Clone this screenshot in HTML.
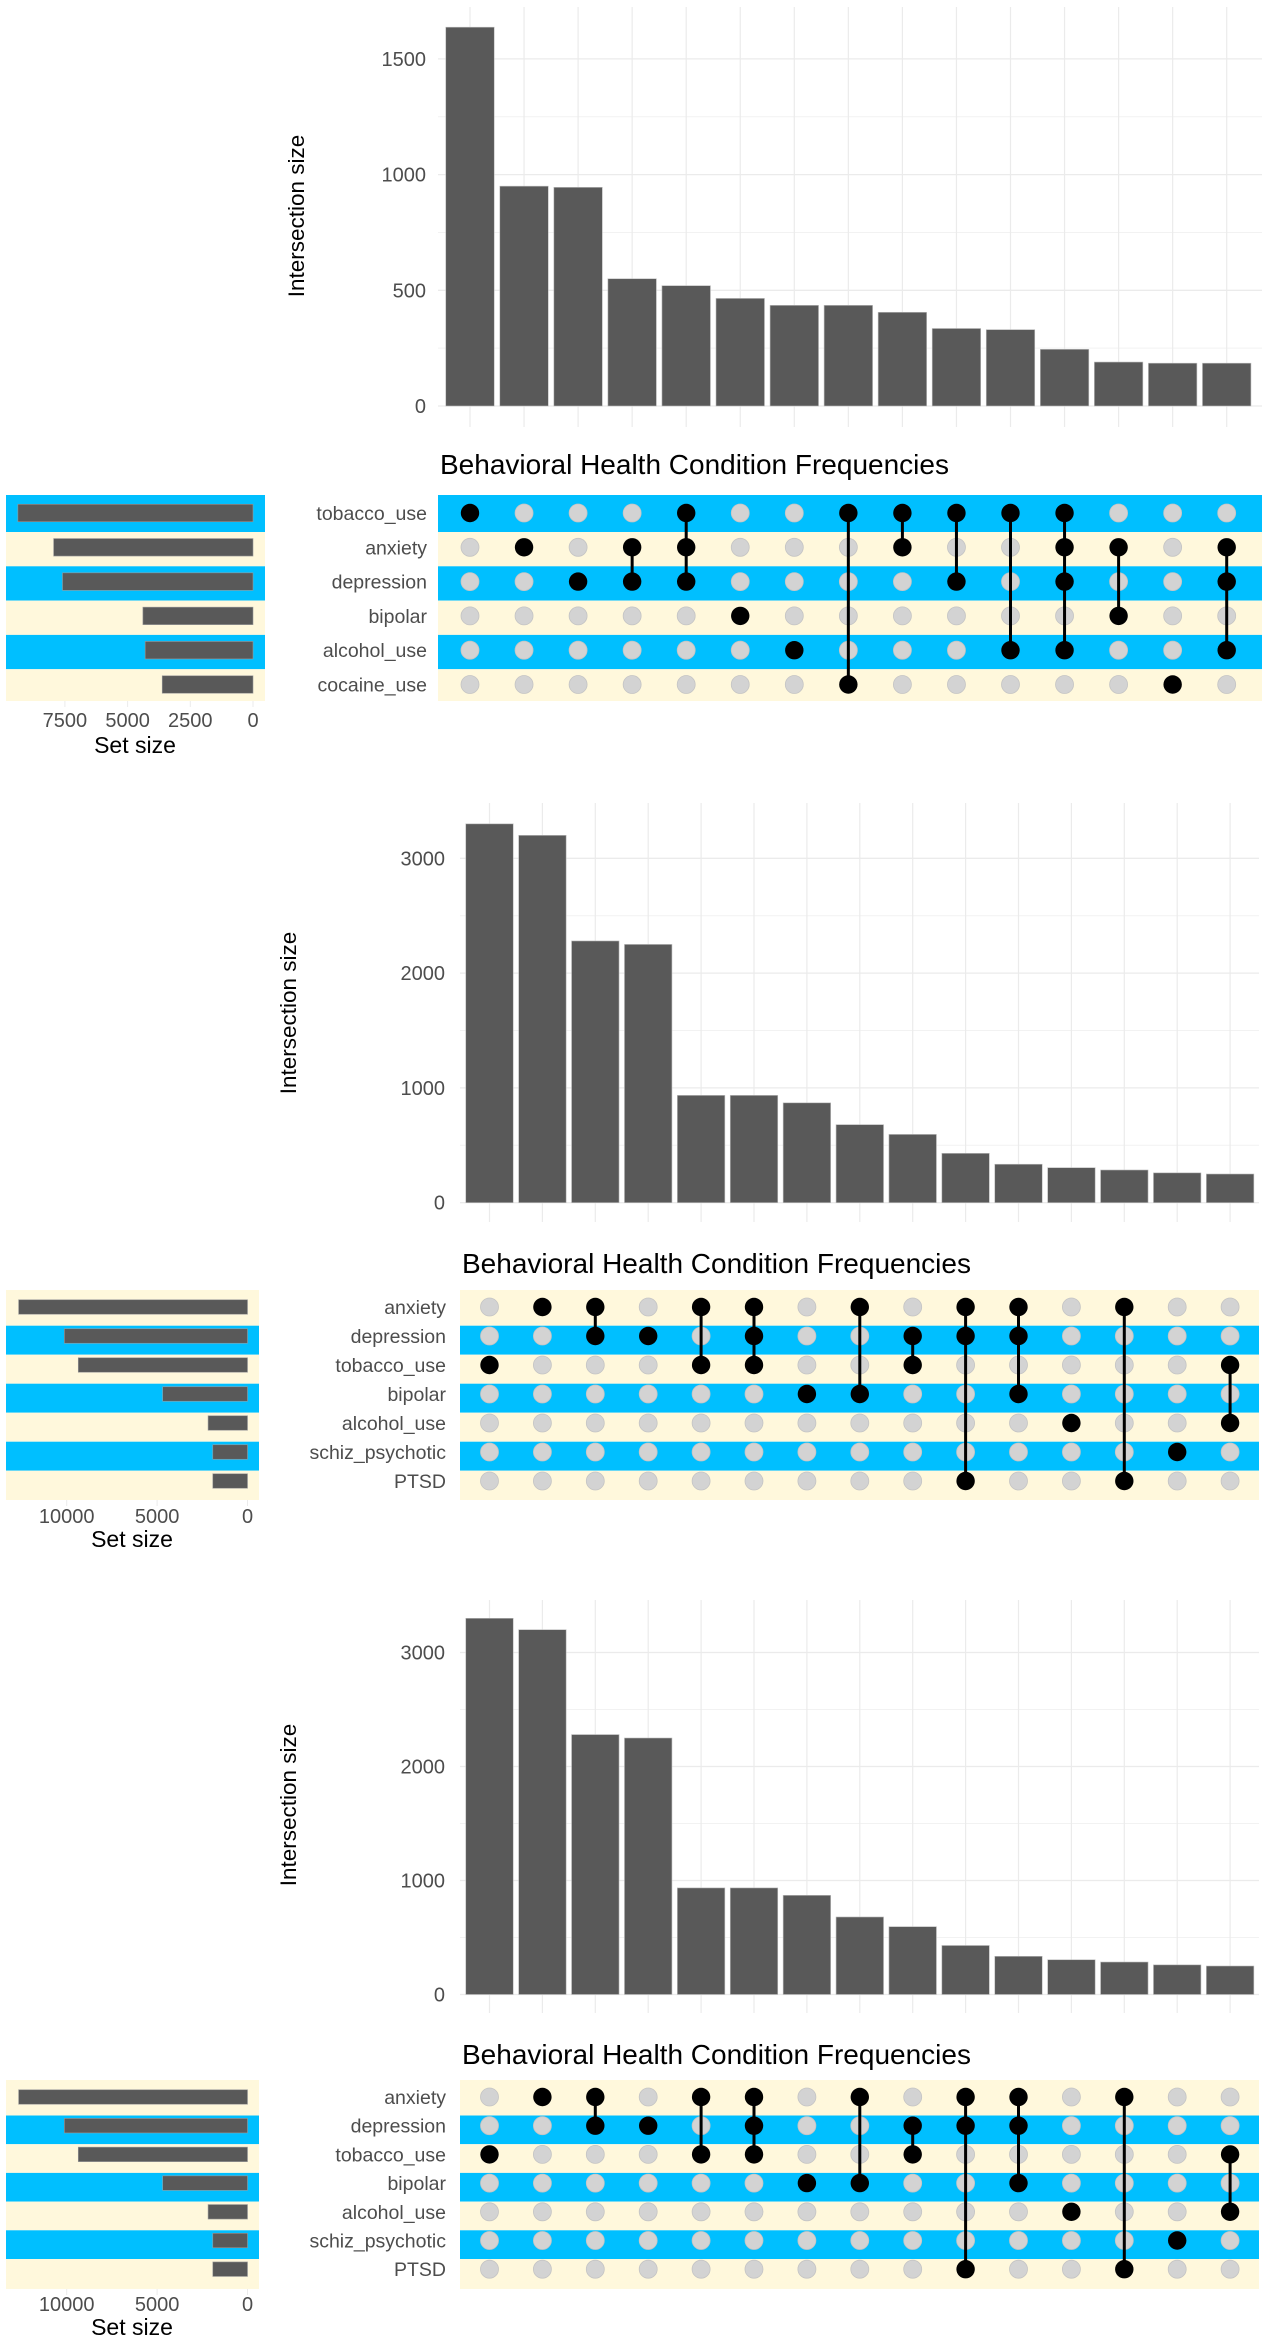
<!DOCTYPE html>
<html><head><meta charset="utf-8"><title>Behavioral Health Condition Frequencies</title>
<style>
html,body{margin:0;padding:0;background:#fff;}
svg{display:block;font-family:"Liberation Sans",Arial,sans-serif;}
</style></head>
<body>
<svg id="chart" width="1267" height="2343" viewBox="0 0 1267 2343" xmlns="http://www.w3.org/2000/svg"></svg>
<script>
// ---------- Panel 1 data ----------
const p1Sets = ["tobacco_use","anxiety","depression","bipolar","alcohol_use","cocaine_use"];
const p1SetSizes = [9375, 7950, 7595, 4390, 4300, 3620];
const p1Counts = [1637, 950, 945, 550, 520, 465, 435, 435, 405, 335, 330, 245, 190, 185, 185];
const p1Members = [[0],[1],[2],[1,2],[0,1,2],[3],[4],[0,5],[0,1],[0,2],[0,4],[0,1,2,4],[1,3],[5],[1,2,4]];
const p1YTicks = [0, 500, 1000, 1500];
const p1SetTicks = [0, 2500, 5000, 7500];
// ---------- Panel 2 data ----------
const p2Sets = ["anxiety","depression","tobacco_use","bipolar","alcohol_use","schiz_psychotic","PTSD"];
const p2SetSizes = [12660, 10130, 9360, 4690, 2180, 1920, 1920];
const p2Counts = [3300, 3200, 2280, 2250, 935, 935, 870, 680, 595, 430, 335, 305, 285, 260, 250];
const p2Members = [[2],[0],[0,1],[1],[0,2],[0,1,2],[3],[0,3],[1,2],[0,1,6],[0,1,3],[4],[0,6],[5],[2,4]];
const p2YTicks = [0, 1000, 2000, 3000];
const p2SetTicks = [0, 5000, 10000];
// ---------- Panel 3 data ----------
const p3Sets = ["anxiety","depression","tobacco_use","bipolar","alcohol_use","schiz_psychotic","PTSD"];
const p3SetSizes = [12660, 10130, 9360, 4690, 2180, 1920, 1920];
const p3Counts = [3300, 3200, 2280, 2250, 935, 935, 870, 680, 595, 430, 335, 305, 285, 260, 250];
const p3Members = [[2],[0],[0,1],[1],[0,2],[0,1,2],[3],[0,3],[1,2],[0,1,6],[0,1,3],[4],[0,6],[5],[2,4]];
const p3YTicks = [0, 1000, 2000, 3000];
const p3SetTicks = [0, 5000, 10000];

const NS = "http://www.w3.org/2000/svg";
const svg = document.getElementById('chart');
function mk(tag, attrs, parent, text){
  const e = document.createElementNS(NS, tag);
  for (const k in attrs) e.setAttribute(k, attrs[k]);
  if (text !== undefined) e.textContent = text;
  (parent || svg).appendChild(e);
  return e;
}

function drawPanel(id, cfg, sets, setSizes, counts, members, yTicks, setTicks){
  const g = mk('g', {});
  
  
  const nCol = counts.length;
  const colX = i => cfg.col0 + i * cfg.colStep;
  const yScale = v => cfg.zero - v * cfg.pxPerUnit;
  const rowY = r => cfg.row0 + r * cfg.rowStep;
  const setX = v => cfg.setZero - v * cfg.setPx;
  const gridL = cfg.matL, gridR = cfg.matR;

  // bar chart gridlines
  const minorStep = (yTicks[1] - yTicks[0]) / 2;
  const maxTick = yTicks[yTicks.length - 1];
  for (let v = minorStep; v <= maxTick + minorStep && yScale(v) > cfg.gridTop; v += 2 * minorStep) {
    const l = mk('line', {x1: gridL, x2: gridR, y1: yScale(v), y2: yScale(v), stroke: '#f2f2f2', 'stroke-width': 1}, g);
    
    
  }
  for (let i = 0; i < nCol; i++) {
    const l = mk('line', {x1: colX(i), x2: colX(i), y1: cfg.gridTop, y2: cfg.gridBot, stroke: '#ebebeb', 'stroke-width': 1.2}, g);
    
    
  }
  yTicks.forEach(v => {
    const l = mk('line', {x1: gridL, x2: gridR, y1: yScale(v), y2: yScale(v), stroke: '#ebebeb', 'stroke-width': 1.3}, g);
    
    
    const t = mk('text', {x: cfg.tickR, y: yScale(v) + 7, 'text-anchor': 'end', 'font-size': 20, fill: '#4d4d4d'}, g, String(v));
    
    
  });
  // bars
  counts.forEach((c, i) => {
    const r = mk('rect', {x: colX(i) - cfg.barW / 2, y: yScale(c), width: cfg.barW, height: yScale(0) - yScale(c), fill: '#595959', stroke: '#bdbdbd', 'stroke-width': 0.6}, g);
    
    
  });
  // y title
  const yt = mk('text', {x: cfg.yTitleX, y: cfg.yTitleY, 'text-anchor': 'middle', 'font-size': 22.5, fill: '#000', transform: `rotate(-90 ${cfg.yTitleX} ${cfg.yTitleY})`, 'dominant-baseline': 'middle'}, g, 'Intersection size');
  
  
  // title
  const tt = mk('text', {x: cfg.matL + 2, y: cfg.titleY, 'font-size': 28, fill: '#000'}, g, 'Behavioral Health Condition Frequencies');
  
  

  // stripes
  const nRow = sets.length;
  for (let r = 0; r < nRow; r++) {
    const top = r === 0 ? cfg.matTop : rowY(r - 1) + cfg.bOff;
    const bot = r === nRow - 1 ? cfg.matBot : rowY(r) + cfg.bOff;
    const color = (r % 2 === 0) === cfg.firstBlue ? '#00BFFF' : '#FFF8DC';
    const s1 = mk('rect', {x: cfg.matL, y: top, width: cfg.matR - cfg.matL, height: bot - top, fill: color}, g);
    
    
    const s2 = mk('rect', {x: cfg.setL, y: top, width: cfg.setR - cfg.setL, height: bot - top, fill: color}, g);
    
    
    const lb = mk('text', {x: cfg.labelR, y: rowY(r) + 7, 'text-anchor': 'end', 'font-size': 19.5, fill: '#4d4d4d'}, g, sets[r]);
    
    
    const sb = mk('rect', {x: setX(setSizes[r]), y: rowY(r) - cfg.setBarH / 2, width: setX(0) - setX(setSizes[r]), height: cfg.setBarH, fill: '#595959', stroke: '#9a9a9a', 'stroke-width': 0.6}, g);
    
    
  }
  // set ticks
  setTicks.forEach(v => {
    const l = mk('line', {x1: setX(v), x2: setX(v), y1: cfg.matBot, y2: cfg.matBot + 6, stroke: '#ebebeb', 'stroke-width': 1}, g);
    
    
    const t = mk('text', {x: setX(v), y: cfg.setTickY, 'text-anchor': 'middle', 'font-size': 20, fill: '#4d4d4d'}, g, String(v));
    
    
  });
  const st = mk('text', {x: cfg.setTitleX, y: cfg.setTitleY, 'text-anchor': 'middle', 'font-size': 23, fill: '#000'}, g, 'Set size');
  
  

  // dots
  members.forEach((m, i) => {
    for (let r = 0; r < nRow; r++) {
      if (m.indexOf(r) < 0) {
        const d = mk('circle', {cx: colX(i), cy: rowY(r), r: 9, fill: '#d3d3d3', stroke: '#c4c4c4', 'stroke-width': 0.8}, g);
        
        
      }
    }
    if (m.length > 1) {
      const mn = Math.min(...m), mx = Math.max(...m);
      const ln = mk('line', {x1: colX(i), x2: colX(i), y1: rowY(mn), y2: rowY(mx), stroke: '#000', 'stroke-width': 3}, g);
      
      
    }
    m.forEach(r => {
      const d = mk('circle', {cx: colX(i), cy: rowY(r), r: 9.2, fill: '#000'}, g);
      
      
    });
  });
}

drawPanel('panel-1', {
  col0: 470, colStep: 54.05, barW: 48.5, zero: 406, pxPerUnit: 115.7 / 500,
  gridTop: 7, gridBot: 427, tickR: 426, yTitleX: 298, yTitleY: 216, titleY: 474,
  matL: 438, matR: 1262, matTop: 495, matBot: 701, row0: 513, rowStep: 34.3, bOff: 19, firstBlue: true,
  labelR: 427, setL: 6, setR: 265, setZero: 253, setPx: 62.7 / 2500, setBarH: 17.5,
  setTickY: 727, setTitleX: 135, setTitleY: 753
}, p1Sets, p1SetSizes, p1Counts, p1Members, p1YTicks, p1SetTicks);

drawPanel('panel-2', {
  col0: 489.5, colStep: 52.9, barW: 47.5, zero: 1202.7, pxPerUnit: 114.8 / 1000,
  gridTop: 803, gridBot: 1222, tickR: 445, yTitleX: 290, yTitleY: 1013, titleY: 1273,
  matL: 460, matR: 1259, matTop: 1290, matBot: 1500, row0: 1307, rowStep: 29.0, bOff: 18.7, firstBlue: false,
  labelR: 446, setL: 6, setR: 259, setZero: 247.5, setPx: 90.4 / 5000, setBarH: 14.5,
  setTickY: 1523, setTitleX: 132, setTitleY: 1547
}, p2Sets, p2SetSizes, p2Counts, p2Members, p2YTicks, p2SetTicks);

drawPanel('panel-3', {
  col0: 489.5, colStep: 52.9, barW: 47.5, zero: 1994.5, pxPerUnit: 114.0 / 1000,
  gridTop: 1600, gridBot: 2013, tickR: 445, yTitleX: 290, yTitleY: 1805, titleY: 2064,
  matL: 460, matR: 1259, matTop: 2080, matBot: 2289, row0: 2097, rowStep: 28.7, bOff: 18.5, firstBlue: false,
  labelR: 446, setL: 6, setR: 259, setZero: 247.5, setPx: 90.4 / 5000, setBarH: 14.5,
  setTickY: 2311, setTitleX: 132, setTitleY: 2335
}, p3Sets, p3SetSizes, p3Counts, p3Members, p3YTicks, p3SetTicks);
</script>
</body></html>
